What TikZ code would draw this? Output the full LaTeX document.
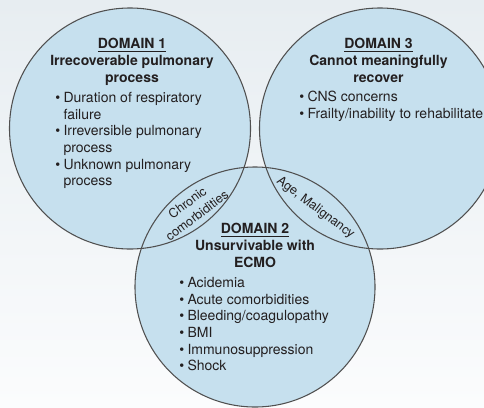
\documentclass[tikz,border=0pt]{standalone}
\usepackage{fontspec}
\setmainfont{TeX Gyre Heros}
\definecolor{circfill}{RGB}{198,224,238}
\definecolor{circline}{RGB}{80,80,80}
\definecolor{bgtop}{RGB}{231,237,241}
\definecolor{bgbot}{RGB}{251,252,253}
\definecolor{txt}{RGB}{35,31,32}
\newcommand{\itm}{\llap{\textbullet\hspace{2.5pt}}}

\tikzset{every picture/.style={line width=0.75pt}}

\begin{document}
\begin{tikzpicture}[x=0.75pt,y=0.75pt,yscale=-1,xscale=1,
	head/.style={font=\bfseries\fontsize{10.5}{12.45}\selectfont, align=center, anchor=north, inner sep=0pt, text=txt},
	list/.style={font=\fontsize{10.5}{12.45}\selectfont, align=left, anchor=north west, inner sep=0pt, text=txt},
	lens/.style={font=\fontsize{9.5}{12}\selectfont, align=center, inner sep=0pt, text=txt}]
	\useasboundingbox (0,0) rectangle (484,407);

	%Shape: Rectangle (background)
	\shade [top color=bgtop, bottom color=bgbot] (0,0) rectangle (484,407);

	%Shape: Circle fills
	\fill [circfill] (130,128.5) circle [radius=120.5];
	\fill [circfill] (380,128.5) circle [radius=120.5];
	\fill [circfill] (255,287) circle [radius=120];
	%Shape: Circle outlines
	\draw [circline, line width=0.8pt] (130,128.5) circle [radius=120.5];
	\draw [circline, line width=0.8pt] (380,128.5) circle [radius=120.5];
	\draw [circline, line width=0.8pt] (255,287) circle [radius=120];

	% Text Node
	\draw (132,38) node [head] (dom1) {\underline{DOMAIN 1}\\Irrecoverable pulmonary\\process};
	% Text Node
	\draw (63,92) node [list] (list1) {\itm Duration of respiratory\\failure\\\itm Irreversible pulmonary\\process\\\itm Unknown pulmonary\\process};
	% Text Node
	\draw (378.5,38) node [head] (dom3) {\underline{DOMAIN 3}\\Cannot meaningfully\\recover};
	% Text Node
	\draw (307,91) node [list] (list3) {\itm CNS concerns\\\itm Frailty/inability to rehabilitate};
	% Text Node
	\draw (255,223) node [head] (dom2) {\underline{DOMAIN 2}\\Unsurvivable with\\ECMO};
	% Text Node
	\draw (187,277) node [list] (list2) {\itm Acidemia\\\itm Acute comorbidities\\\itm Bleeding/coagulopathy\\\itm BMI\\\itm Immunosuppression\\\itm Shock};
	% Text Node
	\draw (192,209) node [lens, rotate=37] (chronic) {Chronic\\comorbidities};
	% Text Node
	\draw (315.5,208) node [lens, rotate=-37] (agemal) {Age, Malignancy};

\end{tikzpicture}
\end{document}
